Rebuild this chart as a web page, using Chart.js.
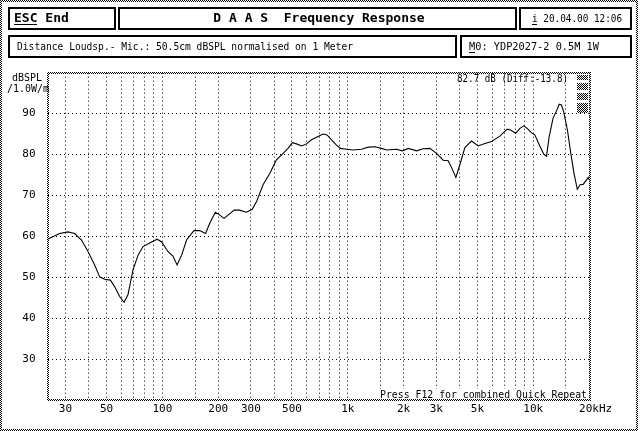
<!DOCTYPE html>
<html>
<head>
<meta charset="utf-8">
<script src="https://cdn.jsdelivr.net/npm/chart.js@4.4.0/dist/chart.umd.min.js"></script>
<style>
  body { margin: 0; background: #fff; }
  canvas { display: block; }
</style>
</head>
<body>
<canvas id="fr" width="640" height="431"></canvas>
<script>
// measured curve (Hz / dB SPL)
var freqs = [24, 27.9, 30.9, 33.6, 36.6, 39.7, 43.1, 45.9, 48.8, 52.4,
  55.3, 58.8, 62.1, 65.2, 69.4, 73.9, 78.6, 85.4, 93.5, 98.8,
  107, 114, 120, 127, 135, 148, 159, 171, 180, 193,
  204, 215, 226, 244, 261, 284, 305, 322, 349, 380,
  412, 448, 476, 503, 529, 563, 599, 637, 691, 736,
  773, 817, 869, 913, 984, 1070, 1185, 1290, 1400, 1520,
  1620, 1830, 1970, 2120, 2350, 2550, 2770, 3010, 3270, 3480,
  3630, 3830, 4020, 4280, 4650, 5050, 5490, 5960, 6610, 7240,
  7550, 8040, 8480, 8910, 9280, 9800, 10200, 10900, 11400, 11800,
  12200, 12800, 13500, 13800, 14200, 14600, 15300, 15900, 16600, 17300,
  17900, 18600, 19400, 19800, 20000];
var spl = [59.3, 60.7, 61.1, 60.7, 59.1, 56.3, 53.0, 50.1, 49.5, 49.3,
  47.7, 45.3, 43.9, 45.7, 51.8, 55.4, 57.5, 58.4, 59.3, 58.7,
  56.3, 55.2, 53.0, 55.4, 59.1, 61.4, 61.4, 60.7, 63.2, 65.9,
  65.2, 64.4, 65.2, 66.4, 66.4, 65.9, 66.6, 68.5, 72.6, 75.4,
  78.7, 80.3, 81.5, 82.9, 82.6, 82.1, 82.6, 83.6, 84.4, 85.0,
  84.8, 83.6, 82.3, 81.5, 81.3, 81.1, 81.3, 81.8, 81.9, 81.5,
  81.1, 81.3, 80.9, 81.5, 80.9, 81.4, 81.5, 80.3, 78.6, 78.5,
  76.8, 74.4, 77.5, 81.7, 83.3, 82.1, 82.7, 83.2, 84.5, 86.2,
  86.0, 85.2, 86.4, 87.0, 86.4, 85.3, 84.8, 81.9, 80.1, 79.6,
  84.4, 88.9, 91.1, 92.3, 92.1, 90.5, 86.0, 80.7, 75.4, 71.5,
  72.6, 72.7, 73.8, 74.4, 73.9];

var gridFreqs = [30, 40, 50, 60, 70, 80, 90, 100, 150, 200, 300, 400, 500, 600, 700, 800, 900,
  1000, 1500, 2000, 3000, 4000, 5000, 6000, 7000, 8000, 9000, 10000, 15000, 20000];
var freqLabels = { 30: '30', 50: '50', 100: '100', 200: '200', 300: '300', 500: '500',
  1000: '1k', 2000: '2k', 3000: '3k', 5000: '5k', 10000: '10k', 20000: '20k' };
var dbLabels = [30, 40, 50, 60, 70, 80, 90];

var mono = '"DejaVu Sans Mono", "Liberation Mono", monospace';

var points = freqs.map(function (f, i) { return { x: f, y: spl[i] }; });

// 2x2 checker, used for the dithered frames
var checker = document.createElement('canvas');
checker.width = 2; checker.height = 2;
(function () {
  var g = checker.getContext('2d');
  g.fillStyle = '#000';
  g.fillRect(0, 0, 1, 1);
  g.fillRect(1, 1, 1, 1);
})();

var decor = {
  id: 'decor',
  beforeDraw: function (chart) {
    var ctx = chart.ctx;
    ctx.save();
    ctx.fillStyle = '#fff';
    ctx.fillRect(0, 0, chart.width, chart.height);
    ctx.restore();
  },
  afterDraw: function (chart) {
    var ctx = chart.ctx, a = chart.chartArea;
    ctx.save();
    var pat = ctx.createPattern(checker, 'repeat');

    // outer frame
    ctx.fillStyle = pat;
    ctx.fillRect(0, 0, 638, 2);
    ctx.fillRect(0, 0, 2, 431);
    ctx.fillRect(636, 0, 2, 431);
    ctx.fillRect(0, 429, 638, 2);

    // header boxes
    ctx.strokeStyle = '#000';
    ctx.lineWidth = 2;
    ctx.strokeRect(9, 8, 106, 21);
    ctx.strokeRect(119, 8, 397, 21);
    ctx.strokeRect(520, 8, 111, 21);
    ctx.strokeRect(9, 36, 447, 21);
    ctx.strokeRect(461, 36, 170, 21);

    ctx.fillStyle = '#000';
    ctx.textBaseline = 'middle';
    ctx.font = 'bold 13px ' + mono;
    ctx.textAlign = 'left';
    ctx.fillText('ESC End', 14, 19);
    ctx.fillRect(14, 24, 23, 1);
    ctx.textAlign = 'center';
    ctx.fillText('D A A S  Frequency Response', 319, 19);

    ctx.font = '11px ' + mono;
    ctx.textAlign = 'left';
    ctx.fillText('i 20.04.00 12:06', 532, 19, 90);
    ctx.fillRect(532, 24, 5, 1);
    ctx.fillText('Distance Loudsp.- Mic.: 50.5cm dBSPL normalised on 1 Meter', 17, 47, 336);
    ctx.fillText('M0: YDP2027-2 0.5M 1W', 469, 47, 130);
    ctx.fillRect(469, 52, 6, 1);

    // axis titles
    ctx.textAlign = 'right';
    ctx.fillText('dBSPL', 42, 78, 30);
    ctx.textAlign = 'left';
    ctx.fillText('/1.0W/m', 7, 89, 42);
    ctx.fillText('Hz', 599, 409);

    ctx.fillText('82.7 dB (Diff:-13.8)', 457, 79, 111);

    // plot frame
    var l = Math.round(a.left) - 1, r = Math.round(a.right), t = Math.round(a.top) - 1, b = Math.round(a.bottom);
    ctx.fillStyle = '#fff';
    ctx.fillRect(379, 389, 210, 10);
    ctx.fillStyle = pat;
    ctx.fillRect(l, t, r - l + 2, 2);
    ctx.fillRect(l, b - 1, r - l + 2, 2);
    ctx.fillRect(l, t, 2, b - t + 1);
    ctx.fillRect(r, t, 2, b - t + 1);

    // little grey marker column, top right
    ctx.fillRect(577, 75, 11, 5);
    ctx.fillRect(577, 83, 11, 7);
    ctx.fillRect(577, 93, 11, 7);
    ctx.fillRect(577, 103, 11, 10);

    ctx.fillStyle = '#000';
    ctx.textBaseline = 'alphabetic';
    ctx.fillText('Press F12 for combined Quick Repeat', 380, 398, 207);
    ctx.restore();
  }
};

new Chart(document.getElementById('fr'), {
  type: 'line',
  data: {
    datasets: [{
      data: points,
      borderColor: '#000',
      borderWidth: 1.1,
      pointRadius: 0,
      tension: 0,
      fill: false
    }]
  },
  options: {
    responsive: false,
    animation: false,
    devicePixelRatio: 1,
    layout: { padding: { left: 0, top: 72.7, right: 51, bottom: 0 } },
    plugins: { legend: { display: false }, tooltip: { enabled: false } },
    scales: {
      x: {
        type: 'logarithmic',
        min: 24,
        max: 20000,
        afterBuildTicks: function (s) {
          s.ticks = gridFreqs.map(function (v) { return { value: v }; });
        },
        afterFit: function (s) { s.height = 31; },
        ticks: {
          autoSkip: false,
          maxRotation: 0,
          padding: 3,
          color: '#000',
          font: { family: mono, size: 11 },
          callback: function (v) { return freqLabels[v] || ''; }
        },
        grid: { color: '#000', lineWidth: 1, drawTicks: false },
        border: { display: false, dash: [1, 3] }
      },
      y: {
        min: 20,
        max: 100,
        afterFit: function (s) { s.width = 47.5; },
        ticks: {
          stepSize: 10,
          padding: 12,
          color: '#000',
          font: { family: mono, size: 11 },
          callback: function (v) { return dbLabels.indexOf(v) >= 0 ? String(v) : ''; }
        },
        grid: { color: '#000', lineWidth: 1, drawTicks: false },
        border: { display: false, dash: [1, 3] }
      }
    }
  },
  plugins: [decor]
});
</script>
</body>
</html>
